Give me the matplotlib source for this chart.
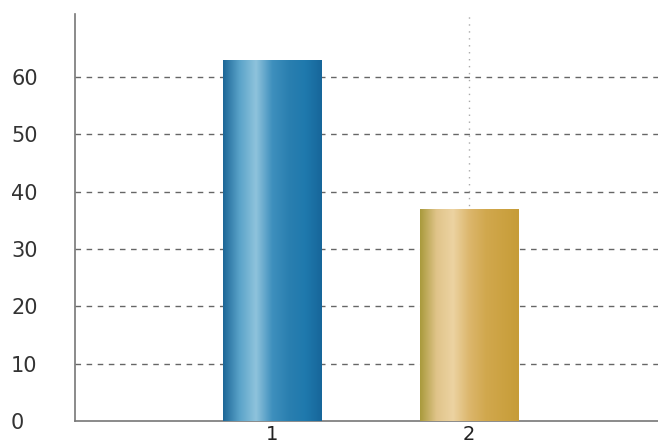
import numpy as np
import matplotlib
matplotlib.use("Agg")
import matplotlib.pyplot as plt
from matplotlib.colors import LinearSegmentedColormap

# data
categories = [1, 2]
values = [63, 37]
yticks = [0, 10, 20, 30, 40, 50, 60]

# bar gradients (left -> right across the bar)
blue_stops = ["#1d6797", "#5aa3c9", "#8fc3dc", "#3e8fbd", "#2a7fb0", "#1f79ad", "#17669a"]
gold_stops = ["#a99a3c", "#e0c48a", "#ecd3a2", "#dcb66c", "#d1a84e", "#cca242", "#c69c38"]
colors = [blue_stops, gold_stops]

fig = plt.figure(figsize=(6.58, 4.47), dpi=100)
ax = fig.add_axes([75/658, 26/447, 1 - 75/658, 407/447])

width = 0.5
for x, v, stops in zip(categories, values, colors):
    cmap = LinearSegmentedColormap.from_list("g", stops)
    grad = np.linspace(0, 1, 256).reshape(1, -1)
    x0, x1 = x - width/2, x + width/2
    rect = ax.bar(x, v, width=width, color="none", zorder=3)[0]
    im = ax.imshow(grad, cmap=cmap, aspect="auto", extent=[x0, x1, 0, v],
                   zorder=3, interpolation="bicubic")
    im.set_clip_path(rect)

ax.set_xlim(-0.005, 2.964)
ax.set_ylim(0, 71)

# grid
ax.set_yticks(yticks)
for y in yticks[1:]:
    ax.axhline(y, color="#666666", lw=1.0, ls=(0, (4, 4)), zorder=1)
ax.axvline(2, color="#aaaaaa", lw=1.0, ls=(0, (1, 4)), zorder=1)

ax.set_xticks(categories)
ax.set_xticklabels([str(c) for c in categories])

for s in ["top", "right"]:
    ax.spines[s].set_visible(False)
for s in ["left", "bottom"]:
    ax.spines[s].set_color("#777777")
    ax.spines[s].set_linewidth(1.2)

ax.tick_params(axis="y", length=0, pad=46, labelsize=15, labelcolor="#333333")
ax.tick_params(axis="x", length=0, pad=3, labelsize=14, labelcolor="#222222")
for lbl in ax.get_yticklabels():
    lbl.set_horizontalalignment("left")

fig.savefig("out.png", dpi=100, facecolor="white")
